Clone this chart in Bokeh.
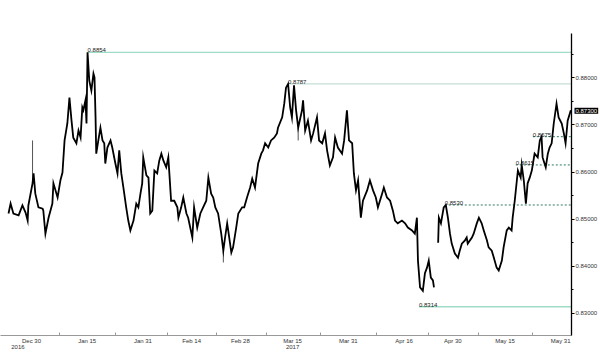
import numpy as np
import pandas as pd
from bokeh.plotting import figure
from bokeh.models import (Range1d, ColumnDataSource, FixedTicker, DatetimeTickFormatter,
                          SingleIntervalTicker, PrintfTickFormatter, Label)
from bokeh.core.properties import value
from bokeh.embed import file_html
from bokeh.resources import INLINE

# ---------------- data ----------------
base_date = "2016-12-30"
# time in days after 30 Dec 2016
days = [-6.6, -6.0, -5.2, -3.7, -2.6, -1.7, -1.1, -0.9, 0.3, 0.6, 1.1, 2.0, 3.2, 3.4, 4.0, 4.9,
        6.0, 6.3, 7.5, 8.3, 8.9, 9.5, 10.3, 10.9, 11.5, 12.0, 12.9, 13.5, 14.1, 14.6, 14.9, 15.5,
        15.8, 16.1, 16.6, 17.2, 17.8, 18.1, 18.4, 18.6, 19.2, 19.8, 20.4, 20.9, 21.2, 21.8, 22.7,
        23.2, 24.1, 24.7, 25.2, 25.8, 26.4, 27.2, 27.8, 28.4, 29.3, 30.1, 30.7, 31.3, 31.8, 32.1,
        33.0, 33.6, 34.1, 34.7, 35.3, 36.1, 36.7, 37.3, 37.9, 38.7, 39.3, 39.6, 40.1, 41.0, 41.9,
        42.2, 43.0, 43.6, 44.5, 45.0, 46.2, 46.7, 47.6, 48.5, 49.3, 50.2, 50.8, 51.6, 52.2, 52.8,
        53.6, 54.5, 55.1, 55.6, 56.2, 56.5, 57.4, 57.9, 58.8, 59.4, 60.5, 61.1, 61.9, 62.8, 63.4,
        64.2, 65.1, 66.0, 66.5, 67.1, 68.0, 68.8, 69.7, 70.5, 70.8, 72.0, 72.6, 73.1, 73.7, 74.3,
        74.8, 75.4, 76.0, 76.6, 77.7, 78.0, 78.6, 79.4, 80.3, 80.9, 82.0, 82.6, 83.5, 84.3, 84.9,
        85.7, 86.6, 87.2, 88.0, 89.2, 89.8, 90.6, 91.2, 92.1, 92.6, 93.2, 93.8, 94.6, 95.2, 96.4,
        97.2, 98.1, 98.9, 99.5, 100.7, 101.2, 102.1, 103.0, 103.8, 104.4, 105.2, 106.4, 107.3,
        108.1, 109.3, 110.1, 110.7, 111.0, 111.6, 112.4, 113.0, 113.6, 114.1, 114.7, 115.3, 115.6,
        116.2, 116.8, 117.0, 117.6, 118.4, 119.0, 119.6, 120.2, 120.7, 121.6, 122.5, 123.0, 123.6,
        124.5, 125.0, 125.3, 126.5, 127.0, 127.9, 128.5, 129.3, 129.9, 130.8, 131.3, 132.2, 132.8,
        133.6, 134.2, 135.1, 135.6, 136.5, 137.1, 137.9, 138.2, 138.8, 139.4, 139.7, 140.5, 140.8,
        141.4, 142.0, 142.5, 143.1, 143.7, 144.5, 145.4, 146.0, 146.5, 146.8, 147.7, 148.3, 148.8,
        149.4, 150.0, 150.8, 151.4, 152.3, 152.9, 153.4, 154.0, 154.9]
price = [0.8512, 0.8533, 0.8512, 0.8508, 0.8529, 0.8514, 0.8497, 0.8529, 0.8576, 0.8597, 0.8554,
         0.8525, 0.8522, 0.8518, 0.8469, 0.8503, 0.8533, 0.8576, 0.8546, 0.8582, 0.8599, 0.8667,
         0.8703, 0.8758, 0.8709, 0.8673, 0.8661, 0.8688, 0.8673, 0.8737, 0.8731, 0.8752, 0.8703,
         0.8854, 0.8794, 0.8773, 0.8809, 0.8801, 0.8716, 0.8639, 0.8667, 0.8694, 0.8667, 0.8661,
         0.8618, 0.8652, 0.8667, 0.8652, 0.8618, 0.8597, 0.8646, 0.8597, 0.8567, 0.8525, 0.8497,
         0.8476, 0.8497, 0.8533, 0.8525, 0.8554, 0.8576, 0.8631, 0.8593, 0.8588, 0.8512, 0.8518,
         0.8603, 0.8597, 0.8624, 0.8639, 0.8624, 0.8610, 0.8631, 0.8597, 0.8539, 0.8539, 0.8525,
         0.8503, 0.8525, 0.8546, 0.8512, 0.8503, 0.8461, 0.8525, 0.8482, 0.8512, 0.8525, 0.8539,
         0.8588, 0.8554, 0.8546, 0.8525, 0.8512, 0.8469, 0.8433, 0.8461, 0.8491, 0.8476, 0.8429,
         0.8440, 0.8482, 0.8512, 0.8525, 0.8525, 0.8546, 0.8567, 0.8586, 0.8567, 0.8618, 0.8639,
         0.8646, 0.8661, 0.8652, 0.8667, 0.8673, 0.8682, 0.8694, 0.8716, 0.8745, 0.8779, 0.8787,
         0.8737, 0.8716, 0.8784, 0.8731, 0.8694, 0.8731, 0.8752, 0.8688, 0.8709, 0.8667, 0.8682,
         0.8716, 0.8667, 0.8661, 0.8682, 0.8646, 0.8614, 0.8631, 0.8673, 0.8652, 0.8639, 0.8667,
         0.8731, 0.8667, 0.8661, 0.8597, 0.8561, 0.8582, 0.8503, 0.8539, 0.8561, 0.8582, 0.8561,
         0.8546, 0.8525, 0.8554, 0.8567, 0.8546, 0.8539, 0.8518, 0.8497, 0.8491, 0.8497, 0.8491,
         0.8482, 0.8476, 0.8469, 0.8503, 0.8412, 0.8355, 0.8348, 0.8385, 0.8397, 0.8412, 0.8376,
         0.8370, 0.8355, np.nan, 0.8450, 0.8503, 0.8491, 0.8525, 0.8530, 0.8503, 0.8469, 0.8448,
         0.8427, 0.8418, 0.8433, 0.8448, 0.8455, 0.8461, 0.8448, 0.8461, 0.8469, 0.8491, 0.8503,
         0.8491, 0.8476, 0.8455, 0.8440, 0.8433, 0.8418, 0.8397, 0.8391, 0.8412, 0.8440, 0.8476,
         0.8482, 0.8476, 0.8503, 0.8539, 0.8582, 0.8603, 0.8588, 0.8615, 0.8582, 0.8533, 0.8576,
         0.8588, 0.8603, 0.8639, 0.8631, 0.8667, 0.8675, 0.8631, 0.8610, 0.8639, 0.8652, 0.8661,
         0.8703, 0.8745, 0.8716, 0.8703, 0.8682, 0.8661, 0.8709, 0.8731]

spike_days = [0.3, 55.1, 76.6]
spike_low = [0.8576, 0.8408, 0.8667]
spike_high = [0.8667, 0.8433, 0.8694]

level_values = [0.8854, 0.8787, 0.8314, 0.8530, 0.8615, 0.8675]
level_start_days = [16.1, 73.7, 111.3, 118.7, 139.1, 144.0]
level_labels = ["0.8854", "0.8787", "0.8314", "0.8530", "0.8615", "0.8675"]

tick_dates = ["2016-12-30", "2017-01-15", "2017-01-31", "2017-02-14", "2017-02-28",
              "2017-03-15", "2017-03-31", "2017-04-16", "2017-04-30", "2017-05-15", "2017-05-31"]
year_labels = ["2016", "2017"]
last_price = 0.8730

# ---------------- helpers ----------------
base = pd.Timestamp(base_date)
def to_dt(d):
    return base + pd.to_timedelta(d, unit="D")
def to_ms(ts):
    return (pd.Timestamp(ts) - pd.Timestamp("1970-01-01")) / pd.Timedelta(milliseconds=1)

x_start = to_dt(-8.9)
x_end = to_dt(155.1)

p = figure(width=600, height=358, x_axis_type="datetime", y_axis_location="right",
           x_range=Range1d(x_start, x_end), y_range=Range1d(0.8253, 0.8894),
           output_backend="svg", toolbar_location=None,
           min_border_left=0, min_border_right=28, min_border_top=33, min_border_bottom=23)
p.outline_line_color = None
p.grid.visible = False
p.background_fill_color = "white"
p.border_fill_color = "white"

FONT = "Liberation Sans"

# level lines
lv_x0 = [to_dt(d) for d in level_start_days]
solid_idx = [0, 1, 2]
dash_idx = [3, 4, 5]
solid_colors = ["#9fdcc6", "#c4ddd6", "#9fdcc6"]
for i, c in zip(solid_idx, solid_colors):
    p.segment(x0=[lv_x0[i]], x1=[x_end], y0=[level_values[i]], y1=[level_values[i]],
              line_color=c, line_width=1.3)
p.segment(x0=[lv_x0[i] for i in dash_idx], x1=[x_end] * 3,
          y0=[level_values[i] for i in dash_idx], y1=[level_values[i] for i in dash_idx],
          line_color="#2f7a66", line_width=1, line_dash="2 2")

# price series
src = ColumnDataSource(dict(x=to_dt(np.array(days)), y=price))
p.segment(x0=to_dt(np.array(spike_days)), x1=to_dt(np.array(spike_days)),
          y0=spike_low, y1=spike_high, line_color="#555555", line_width=1)
p.line("x", "y", source=src, line_color="black", line_width=1.8, line_join="miter")

# level labels
p.text(x=lv_x0, y=level_values, text=level_labels, text_font=value(FONT),
       text_font_size="6px", text_color="#222222", text_baseline="bottom", text_align="left")

# axes
ax = p.yaxis[0]
ax.ticker = SingleIntervalTicker(interval=0.01, num_minor_ticks=2)
ax.formatter = PrintfTickFormatter(format="%.5f")
ax.axis_line_color = "black"
ax.axis_line_width = 1.3
ax.major_tick_in = 0
ax.major_tick_out = 3
ax.minor_tick_in = 0
ax.minor_tick_out = 2
ax.major_tick_line_color = "black"
ax.minor_tick_line_color = "black"
ax.major_label_standoff = 1
ax.major_label_text_font = FONT
ax.major_label_text_font_size = "6px"
ax.major_label_text_color = "#333333"

tick_ms = [to_ms(t) for t in tick_dates]
minor_ms = [(a + b) / 2 for a, b in zip(tick_ms[:-1], tick_ms[1:])]
xa = p.xaxis[0]
xa.ticker = FixedTicker(ticks=tick_ms, minor_ticks=minor_ms)
xa.formatter = DatetimeTickFormatter(days="%b %d", months="%b %d", hours="%b %d")
xa.axis_line_color = "#999999"
xa.axis_line_width = 1
xa.major_tick_in = 0
xa.major_tick_out = 0
xa.minor_tick_in = 3
xa.minor_tick_out = 0
xa.minor_tick_line_color = "#999999"
xa.major_label_standoff = 2
xa.major_label_text_font = FONT
xa.major_label_text_font_size = "6px"
xa.major_label_text_color = "#333333"

# year labels and last-price box live in the (otherwise empty) top panel,
# so they are not clipped to the frame; positions still use the frame scales
for yr, d in zip(year_labels, [to_dt(-3.9), pd.Timestamp(tick_dates[5])]):
    p.add_layout(Label(x=d, y=0.8253, text=yr, text_font=FONT, text_font_size="6px",
                       text_color="#333333", text_align="center", text_baseline="top",
                       y_offset=-9), "above")

p.add_layout(Label(x=x_end, y=last_price, text=f"{last_price:.5f}", x_offset=3,
                   text_font=FONT, text_font_size="6px", text_color="white",
                   text_align="left", text_baseline="middle",
                   background_fill_color="black", padding=1), "above")

open("out.html", "w").write(file_html(p, INLINE))
